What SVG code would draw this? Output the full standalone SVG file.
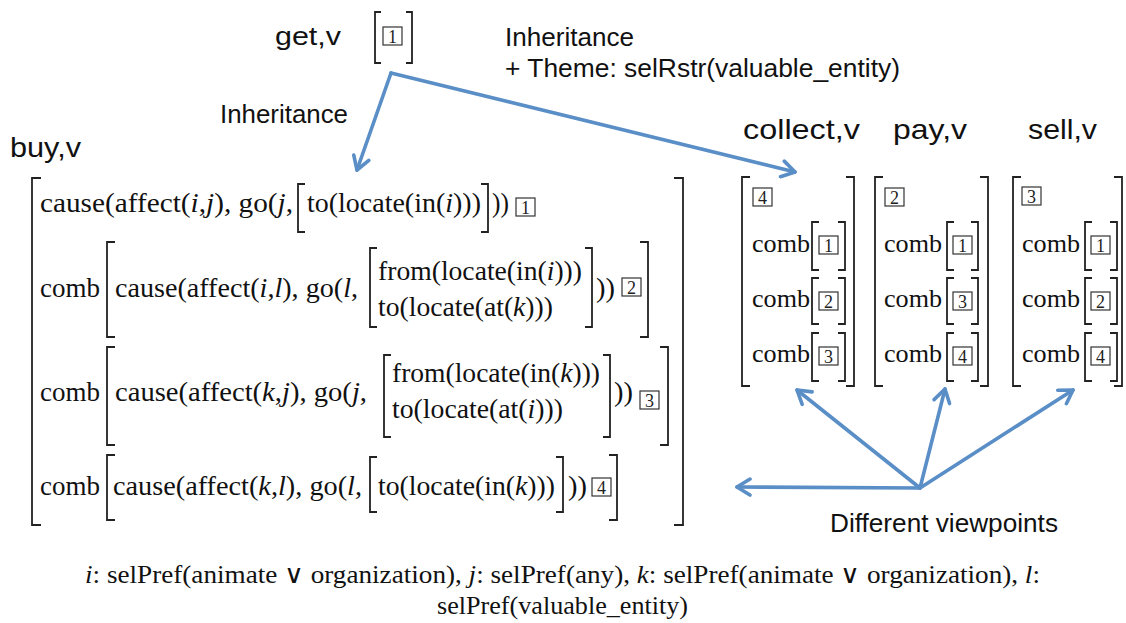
<svg xmlns="http://www.w3.org/2000/svg" width="1126" height="623" viewBox="0 0 1126 623">
<defs>
<style>
.bg{fill:#ffffff}
.br{fill:none;stroke:#222;stroke-width:1.8}
.m{font-family:"Liberation Serif","Times New Roman",serif;font-size:28px;fill:#111}
.m2{font-family:"Liberation Serif","Times New Roman",serif;font-size:27px;fill:#111}
.cm{font-family:"Liberation Serif","Times New Roman",serif;font-size:26px;fill:#111}
.lbl{font-family:"Liberation Sans",Arial,sans-serif;font-size:26px;fill:#111}
.big{font-family:"Liberation Sans",Arial,sans-serif;font-size:28px;fill:#111}
.foot{font-family:"Liberation Serif","Times New Roman",serif;font-size:26px;fill:#111}
.bx rect{fill:none;stroke:#333;stroke-width:1.2}
.bx text{font-family:"Liberation Serif","Times New Roman",serif;font-size:18px;fill:#222;text-anchor:middle}
.con path{fill:none;stroke:#5a8ec6;stroke-width:3.6;stroke-linecap:round;marker-end:url(#ah)}
</style>
<marker id="ah" viewBox="0 0 20 20" refX="17" refY="10" markerWidth="20" markerHeight="20" markerUnits="userSpaceOnUse" orient="auto">
<path d="M4,2 L17,10 L4,18" fill="none" stroke="#5a8ec6" stroke-width="3.6" stroke-linecap="round" stroke-linejoin="round"/>
</marker>
</defs>
<rect class="bg" x="0" y="0" width="1126" height="623"/>

<g id="get">
<text class="lbl" x="275" y="45" textLength="66" lengthAdjust="spacingAndGlyphs">get,v</text>
<path class="br" d="M381,12 H375 V63 H381"/>
<path class="br" d="M406,12 H412 V63 H406"/>
<g class="bx"><rect x="383" y="27" width="19" height="18"/><text x="392.5" y="42.5">1</text></g>
</g>

<g id="labels">
<text class="lbl" x="505" y="46" textLength="129" lengthAdjust="spacingAndGlyphs">Inheritance</text>
<text class="lbl" x="505" y="77" textLength="395" lengthAdjust="spacingAndGlyphs">+ Theme: selRstr(valuable_entity)</text>
<text class="lbl" x="220" y="123" textLength="128" lengthAdjust="spacingAndGlyphs">Inheritance</text>
<text class="lbl" x="830" y="532" textLength="228" lengthAdjust="spacingAndGlyphs">Different viewpoints</text>
</g>

<g id="buy">
<text class="big" x="10" y="157" textLength="71" lengthAdjust="spacingAndGlyphs">buy,v</text>
<path class="br" d="M41,178 H32 V525 H41"/>
<path class="br" d="M674,178 H683 V525 H674"/>
<!-- row 1 -->
<text class="m" x="40" y="212" textLength="253" lengthAdjust="spacingAndGlyphs">cause(affect(<tspan font-style="italic">i</tspan>,<tspan font-style="italic">j</tspan>), go(<tspan font-style="italic">j</tspan>,</text>
<path class="br" d="M305,184 H298 V232 H305"/>
<text class="m" x="307" y="212" textLength="174" lengthAdjust="spacingAndGlyphs">to(locate(in(<tspan font-style="italic">i</tspan>)))</text>
<path class="br" d="M481,184 H488 V232 H481"/>
<text class="m" x="492" y="212" textLength="17" lengthAdjust="spacingAndGlyphs">))</text>
<g class="bx"><rect x="516" y="198" width="19" height="18"/><text x="525.5" y="213.5">1</text></g>
<!-- row 2 -->
<text class="m" x="40" y="297" textLength="60" lengthAdjust="spacingAndGlyphs">comb</text>
<path class="br" d="M115,242 H107 V337 H115"/>
<text class="m" x="115" y="297" textLength="243" lengthAdjust="spacingAndGlyphs">cause(affect(<tspan font-style="italic">i</tspan>,<tspan font-style="italic">l</tspan>), go(<tspan font-style="italic">l</tspan>,</text>
<path class="br" d="M377,248 H370 V327 H377"/>
<text class="m2" x="378" y="280" textLength="204" lengthAdjust="spacingAndGlyphs">from(locate(in(<tspan font-style="italic">i</tspan>)))</text>
<text class="m2" x="378" y="316" textLength="175" lengthAdjust="spacingAndGlyphs">to(locate(at(<tspan font-style="italic">k</tspan>)))</text>
<path class="br" d="M585,248 H592 V327 H585"/>
<text class="m" x="596" y="297" textLength="19" lengthAdjust="spacingAndGlyphs">))</text>
<g class="bx"><rect x="622" y="278" width="19" height="18"/><text x="631.5" y="293.5">2</text></g>
<path class="br" d="M640,242 H648 V337 H640"/>
<!-- row 3 -->
<text class="m" x="40" y="401" textLength="60" lengthAdjust="spacingAndGlyphs">comb</text>
<path class="br" d="M115,347 H107 V445 H115"/>
<text class="m" x="115" y="401" textLength="252" lengthAdjust="spacingAndGlyphs">cause(affect(<tspan font-style="italic">k</tspan>,<tspan font-style="italic">j</tspan>), go(<tspan font-style="italic">j</tspan>,</text>
<path class="br" d="M391,355 H384 V437 H391"/>
<text class="m2" x="392" y="382" textLength="208" lengthAdjust="spacingAndGlyphs">from(locate(in(<tspan font-style="italic">k</tspan>)))</text>
<text class="m2" x="392" y="418" textLength="171" lengthAdjust="spacingAndGlyphs">to(locate(at(<tspan font-style="italic">i</tspan>)))</text>
<path class="br" d="M603,355 H610 V437 H603"/>
<text class="m" x="614" y="401" textLength="19" lengthAdjust="spacingAndGlyphs">))</text>
<g class="bx"><rect x="640" y="391" width="19" height="18"/><text x="649.5" y="406.5">3</text></g>
<path class="br" d="M660,347 H668 V445 H660"/>
<!-- row 4 -->
<text class="m" x="40" y="495" textLength="60" lengthAdjust="spacingAndGlyphs">comb</text>
<path class="br" d="M115,455 H107 V520 H115"/>
<text class="m" x="113" y="495" textLength="249" lengthAdjust="spacingAndGlyphs">cause(affect(<tspan font-style="italic">k</tspan>,<tspan font-style="italic">l</tspan>), go(<tspan font-style="italic">l</tspan>,</text>
<path class="br" d="M377,457 H370 V512 H377"/>
<text class="m" x="378" y="495" textLength="177" lengthAdjust="spacingAndGlyphs">to(locate(in(<tspan font-style="italic">k</tspan>)))</text>
<path class="br" d="M556,457 H563 V512 H556"/>
<text class="m" x="568" y="495" textLength="19" lengthAdjust="spacingAndGlyphs">))</text>
<g class="bx"><rect x="592" y="478" width="19" height="18"/><text x="601.5" y="493.5">4</text></g>
<path class="br" d="M609,455 H617 V520 H609"/>
</g>

<g id="collect">
<text class="big" x="743" y="139" textLength="117" lengthAdjust="spacingAndGlyphs">collect,v</text>
<path class="br" d="M750,177 H742 V386 H750"/>
<path class="br" d="M846,177 H854 V386 H846"/>
<g class="bx"><rect x="753" y="188" width="19" height="18"/><text x="762.5" y="203.5">4</text></g>
<text class="cm" x="752" y="252" textLength="58" lengthAdjust="spacingAndGlyphs">comb</text>
<text class="cm" x="752" y="307" textLength="58" lengthAdjust="spacingAndGlyphs">comb</text>
<text class="cm" x="752" y="362" textLength="58" lengthAdjust="spacingAndGlyphs">comb</text>
<path class="br" d="M819,222 H812 V270 H819 M819,278 H812 V324 H819 M819,333 H812 V381 H819"/>
<path class="br" d="M838,222 H845 V270 H838 M838,278 H845 V324 H838 M838,333 H845 V381 H838"/>
<g class="bx"><rect x="819" y="236" width="19" height="18"/><text x="828.5" y="251.5">1</text></g>
<g class="bx"><rect x="819" y="292" width="19" height="18"/><text x="828.5" y="307.5">2</text></g>
<g class="bx"><rect x="819" y="347" width="19" height="18"/><text x="828.5" y="362.5">3</text></g>
</g>

<g id="pay">
<text class="big" x="893" y="139" textLength="74" lengthAdjust="spacingAndGlyphs">pay,v</text>
<path class="br" d="M883,177 H875 V386 H883"/>
<path class="br" d="M980,177 H988 V386 H980"/>
<g class="bx"><rect x="885" y="188" width="19" height="18"/><text x="894.5" y="203.5">2</text></g>
<text class="cm" x="884" y="252" textLength="58" lengthAdjust="spacingAndGlyphs">comb</text>
<text class="cm" x="884" y="307" textLength="58" lengthAdjust="spacingAndGlyphs">comb</text>
<text class="cm" x="884" y="362" textLength="58" lengthAdjust="spacingAndGlyphs">comb</text>
<path class="br" d="M954,222 H947 V270 H954 M954,278 H947 V324 H954 M954,333 H947 V381 H954"/>
<path class="br" d="M971,222 H978 V270 H971 M971,278 H978 V324 H971 M971,333 H978 V381 H971"/>
<g class="bx"><rect x="953" y="236" width="19" height="18"/><text x="962.5" y="251.5">1</text></g>
<g class="bx"><rect x="953" y="292" width="19" height="18"/><text x="962.5" y="307.5">3</text></g>
<g class="bx"><rect x="953" y="347" width="19" height="18"/><text x="962.5" y="362.5">4</text></g>
</g>

<g id="sell">
<text class="big" x="1028" y="139" textLength="69" lengthAdjust="spacingAndGlyphs">sell,v</text>
<path class="br" d="M1021,177 H1013 V386 H1021"/>
<path class="br" d="M1114,177 H1122 V386 H1114"/>
<g class="bx"><rect x="1022" y="187" width="19" height="18"/><text x="1031.5" y="202.5">3</text></g>
<text class="cm" x="1022" y="252" textLength="58" lengthAdjust="spacingAndGlyphs">comb</text>
<text class="cm" x="1022" y="307" textLength="58" lengthAdjust="spacingAndGlyphs">comb</text>
<text class="cm" x="1022" y="362" textLength="58" lengthAdjust="spacingAndGlyphs">comb</text>
<path class="br" d="M1092,222 H1085 V270 H1092 M1092,278 H1085 V324 H1092 M1092,333 H1085 V381 H1092"/>
<path class="br" d="M1110,222 H1117 V270 H1110 M1110,278 H1117 V324 H1110 M1110,333 H1117 V381 H1110"/>
<g class="bx"><rect x="1091" y="236" width="19" height="18"/><text x="1100.5" y="251.5">1</text></g>
<g class="bx"><rect x="1091" y="292" width="19" height="18"/><text x="1100.5" y="307.5">2</text></g>
<g class="bx"><rect x="1091" y="347" width="19" height="18"/><text x="1100.5" y="362.5">4</text></g>
</g>

<g id="connectors" class="con">
<path d="M391,73 L357,170"/>
<path d="M391,73 L795,172"/>
<path d="M920,488 L737,487"/>
<path d="M920,488 L797,390"/>
<path d="M920,488 L945,389"/>
<path d="M920,488 L1073,390"/>
</g>

<g id="footnote">
<text class="foot" x="85" y="583" textLength="955" lengthAdjust="spacingAndGlyphs"><tspan font-style="italic">i</tspan>: selPref(animate ∨ organization), <tspan font-style="italic">j</tspan>: selPref(any), <tspan font-style="italic">k</tspan>: selPref(animate ∨ organization), <tspan font-style="italic">l</tspan>:</text>
<text class="foot" x="437" y="614" textLength="251" lengthAdjust="spacingAndGlyphs">selPref(valuable_entity)</text>
</g>
</svg>
